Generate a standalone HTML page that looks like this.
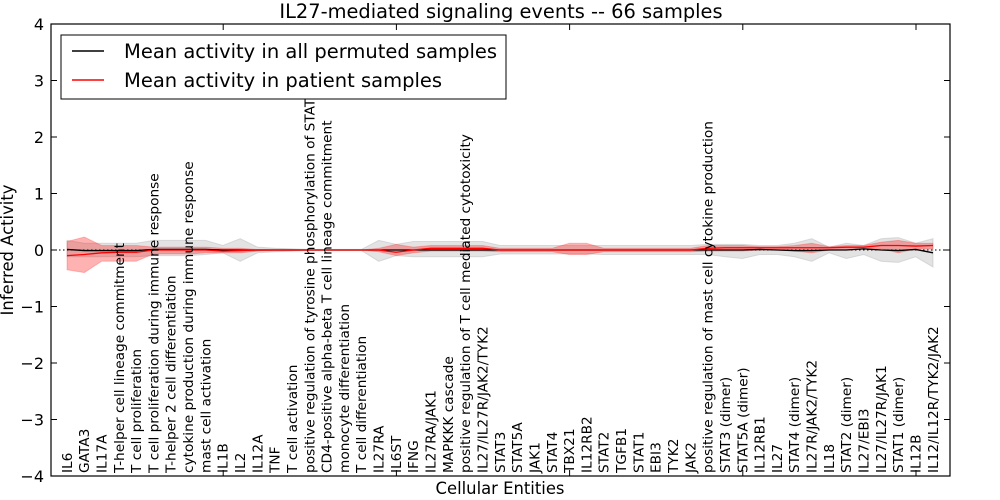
<!DOCTYPE html>
<html><head><meta charset="utf-8"><style>
html,body{margin:0;padding:0;background:#fff;width:1000px;height:500px;overflow:hidden}
svg{display:block;font-family:"DejaVu Sans","Liberation Sans",sans-serif}
</style></head><body>
<svg id="s" width="1000" height="500" xmlns="http://www.w3.org/2000/svg">
<text x="501" y="18" font-size="19.4" text-anchor="middle">IL27-mediated signaling events -- 66 samples</text>
<text x="500" y="494" font-size="16.4" text-anchor="middle">Cellular Entities</text>
<text transform="translate(13,250) rotate(-90)" font-size="16.4" text-anchor="middle">Inferred Activity</text>
<g id="plot"></g>
<rect x="51" y="24" width="899" height="452" fill="none" stroke="#000" stroke-width="1.2"/>
<g id="ax" font-size="16" text-anchor="end"></g>
<g id="lab" font-size="13.7"></g>
<rect x="61" y="35" width="445" height="64" fill="#fff" stroke="#000" stroke-width="1"/>
<line x1="72" y1="51" x2="104" y2="51" stroke="#000" stroke-width="1.5"/>
<text x="124" y="58" font-size="19.5">Mean activity in all permuted samples</text>
<line x1="72" y1="80" x2="104" y2="80" stroke="#f00" stroke-width="1.5"/>
<text x="124" y="87" font-size="19.5">Mean activity in patient samples</text>
</svg>
<script>
var L=["IL6","GATA3","IL17A","T-helper cell lineage commitment","T cell proliferation","T cell proliferation during immune response","T-helper 2 cell differentiation","cytokine production during immune response","mast cell activation","IL1B","IL2","IL12A","TNF","T cell activation","positive regulation of tyrosine phosphorylation of STAT","CD4-positive alpha-beta T cell lineage commitment","monocyte differentiation","T cell differentiation","IL27RA","IL6ST","IFNG","IL27RA/JAK1","MAPKKK cascade","positive regulation of T cell mediated cytotoxicity","IL27/IL27R/JAK2/TYK2","STAT3","STAT5A","JAK1","STAT4","TBX21","IL12RB2","STAT2","TGFB1","STAT1","EBI3","TYK2","JAK2","positive regulation of mast cell cytokine production","STAT3 (dimer)","STAT5A (dimer)","IL12RB1","IL27","STAT4 (dimer)","IL27R/JAK2/TYK2","IL18","STAT2 (dimer)","IL27/EBI3","IL27/IL27R/JAK1","STAT1 (dimer)","IL12B","IL12/IL12R/TYK2/JAK2"];
var n=L.length,X=i=>67+i*17.32,Y=v=>250-v*56.5;
var gu=[.17,.12,.12,.12,.12,.17,.17,.17,.17,.08,.2,.05,.03,.02,.01,.01,.01,.01,.17,.1,.15,.15,.15,.15,.15,.08,.08,.08,.08,.08,.08,.08,.08,.08,.08,.08,.08,.1,.1,.1,.08,.08,.12,.2,.05,.12,.08,.2,.22,.12,.2];
var gl=[-.12,-.12,-.12,-.12,-.12,-.1,-.1,-.1,-.08,-.05,-.2,-.05,-.03,-.02,-.01,-.01,-.01,-.01,-.2,-.1,-.12,-.12,-.12,-.12,-.12,-.07,-.07,-.07,-.07,-.07,-.07,-.08,-.08,-.08,-.08,-.08,-.08,-.08,-.12,-.15,-.08,-.08,-.12,-.2,-.05,-.15,-.08,-.2,-.22,-.12,-.3];
var bm=[.01,-.01,-.01,-.01,-.01,.01,.01,.01,.01,0,0,0,0,0,0,0,0,0,0,0,0,0,0,0,0,0,0,0,0,0,0,0,0,0,0,0,0,0,0,0,.01,0,-.01,-.01,0,0,.02,0,-.01,.01,-.05];
var rm=[-.1,-.08,-.05,-.04,-.04,0,0,0,0,-.02,-.01,0,0,0,0,0,0,0,0,-.04,0,.03,.03,.03,.03,0,0,0,0,0,0,0,0,0,0,0,0,.03,.04,.04,.04,.04,.04,.04,.04,.05,.05,.08,.08,.07,.08];
var ru=[.15,.23,.08,.08,.08,.05,.05,.05,.05,.03,.03,.01,.01,.01,0,0,0,0,.03,.1,.05,.08,.08,.08,.08,.03,.03,.03,.03,.12,.12,.03,.03,.03,.03,.03,.03,.08,.08,.08,.06,.06,.08,.12,.06,.08,.08,.14,.17,.12,.12];
var rl=[-.35,-.4,-.2,-.2,-.2,-.07,-.07,-.07,-.05,-.05,-.05,-.02,-.01,-.01,0,0,0,0,-.03,-.1,-.05,-.02,-.02,-.02,-.02,-.03,-.03,-.03,-.03,-.08,-.08,-.03,-.03,-.03,-.03,-.03,-.03,-.02,-.02,-.02,0,0,-.02,-.05,0,0,.02,.02,-.05,.02,.02];
function band(u,l){var p=u.map((v,i)=>X(i)+","+Y(v));for(var i=n-1;i>=0;i--)p.push(X(i)+","+Y(l[i]));return p.join(" ");}
function line(a){return a.map((v,i)=>X(i)+","+Y(v)).join(" ");}
var h='<polygon points="'+band(gu,gl)+'" fill="#d0d0d0" fill-opacity="0.6" stroke="#b0b0b0" stroke-opacity="0.4"/>';
h+='<polygon points="'+band(ru,rl)+'" fill="#ff0000" fill-opacity="0.3" stroke="#ff0000" stroke-opacity="0.2"/>';
h+='<line x1="51" y1="250" x2="950" y2="250" stroke="#000" stroke-dasharray="1.5,2.5" stroke-width="1"/>';
h+='<polyline points="'+line(bm)+'" fill="none" stroke="#000" stroke-width="1.3"/>';
h+='<polyline points="'+line(rm)+'" fill="none" stroke="#f00" stroke-width="1.3"/>';
for(var k=1;k<=5;k++){var tx=50+173.2*k;h+='<line x1="'+tx+'" y1="24" x2="'+tx+'" y2="30" stroke="#000"/><line x1="'+tx+'" y1="470" x2="'+tx+'" y2="476" stroke="#000"/>';}
document.getElementById('plot').innerHTML=h;
var a='';for(var v=-4;v<=4;v++){var y=Y(v);a+='<text x="44" y="'+(y+6)+'">'+(v<0?'\u2212'+(-v):v)+'</text>';
if(v>-4&&v<4)a+='<line x1="51" y1="'+y+'" x2="57" y2="'+y+'" stroke="#000"/><line x1="944" y1="'+y+'" x2="950" y2="'+y+'" stroke="#000"/>';}
document.getElementById('ax').innerHTML=a;
var b='';L.forEach((t,i)=>{var x=X(i);b+='<text transform="translate('+(x+4.8)+',473) rotate(-90)">'+t.replace(/&/g,'&amp;')+'</text>';});
document.getElementById('lab').innerHTML=b;
</script>
</body></html>
